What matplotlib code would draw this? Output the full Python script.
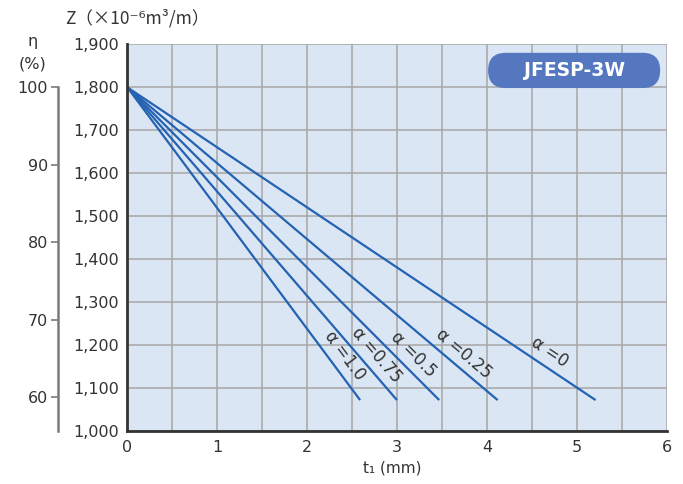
import numpy as np
import matplotlib
matplotlib.use("Agg")
import matplotlib.pyplot as plt
from matplotlib.patches import FancyBboxPatch
from matplotlib.ticker import FuncFormatter

plt.rcParams['font.family'] = ['DejaVu Sans', 'Noto Sans CJK JP']

# data
alphas = ["0", "0.25", "0.5", "0.75", "1.0"]
t_start = 0.0
z_start = 1800
t_end = [5.21, 4.12, 3.47, 3.00, 2.59]
z_end = [1073, 1073, 1073, 1073, 1073]
eta_ticks = [60, 70, 80, 90, 100]
z_per_eta = 18.0  # eta(%) = Z / 18

line_col = "#2462b2"
bg_col = "#dbe6f4"
grid_col = "#a6a6a6"
txt_col = "#333333"

fig = plt.figure(figsize=(6.83, 4.84), dpi=100)
ax = fig.add_axes([0.1864, 0.1085, 0.7896, 0.80])
ax.set_facecolor(bg_col)
ax.set_xlim(0, 6)
ax.set_ylim(1000, 1900)
ax.set_xticks(range(0, 7))
ax.set_yticks(range(1000, 2000, 100))
ax.yaxis.set_major_formatter(FuncFormatter(lambda v, p: f"{int(v):,}"))
ax.xaxis.set_minor_locator(matplotlib.ticker.MultipleLocator(0.5))
ax.grid(True, which="both", axis="x", color=grid_col, lw=1.1)
ax.grid(True, which="major", axis="y", color=grid_col, lw=1.1)
ax.set_axisbelow(True)
ax.tick_params(length=0, labelsize=11.5, colors=txt_col, pad=6)
ax.tick_params(axis="x", which="minor", length=0)
for s in ["top", "right"]:
    ax.spines[s].set_visible(False)
for s in ["left", "bottom"]:
    ax.spines[s].set_color("#333333")
    ax.spines[s].set_linewidth(2)

fig.canvas.draw()
for a, te, ze in zip(alphas, t_end, z_end):
    ax.plot([t_start, te], [z_start, ze], color=line_col, lw=1.6, solid_capstyle="butt")
    p0 = ax.transData.transform((t_start, z_start))
    p1 = ax.transData.transform((te, ze))
    d = p1 - p0
    ang = np.degrees(np.arctan2(d[1], d[0]))
    u = d / np.hypot(*d)
    nrm = np.array([-u[1], u[0]])
    if nrm[1] < 0:
        nrm = -nrm
    f = 0.885
    anchor = (t_start + f * (te - t_start), z_start + f * (ze - z_start))
    off = nrm * 14
    ax.annotate(f"α ={a}", xy=anchor, xytext=(off[0], off[1]), textcoords="offset pixels",
                rotation=ang, rotation_mode="anchor", ha="center", va="center",
                fontsize=12, color=txt_col)

# model badge
w_px = ax.bbox.width
h_px = ax.bbox.height
badge = FancyBboxPatch((0.669, 0.887), 0.319, 0.091, transform=ax.transAxes,
                       boxstyle="round,pad=0,rounding_size=0.0325",
                       mutation_aspect=w_px / h_px, fc="#5577bf", ec="none", zorder=5)
ax.add_patch(badge)
ax.text(0.8285, 0.9325, "JFESP-3W", transform=ax.transAxes, ha="center", va="center",
        color="white", fontsize=13.5, fontweight="bold", zorder=6)

# eta axis
ax_eta = fig.add_axes([57.7 / 683, 0.1085, 0.001, 0.80])
ax_eta.set_ylim(1000 / z_per_eta, 1900 / z_per_eta)
ax_eta.patch.set_visible(False)
ax_eta.set_xticks([])
ax_eta.set_yticks(eta_ticks)
for s in ["top", "right", "bottom"]:
    ax_eta.spines[s].set_visible(False)
ax_eta.spines["left"].set_bounds(1000 / z_per_eta, 100)
ax_eta.spines["left"].set_color("#7a7a7a")
ax_eta.spines["left"].set_linewidth(1.8)
ax_eta.tick_params(axis="y", length=5, width=1.2, color="#7a7a7a", labelsize=11.5,
                   labelcolor=txt_col, pad=2)

fig.text(0.048, 0.914, "η", ha="center", va="center", fontsize=11.5, color=txt_col)
fig.text(0.048, 0.868, "(%)", ha="center", va="center", fontsize=11.5, color=txt_col)
fig.text(0.095, 0.963, "Z（×10⁻⁶m³/m）", ha="left", va="center", fontsize=12.5, color=txt_col,
         family=["Noto Sans CJK JP", "DejaVu Sans"])
fig.text(0.574, 0.033, "t₁ (mm)", ha="center", va="center", fontsize=11, color=txt_col)

fig.savefig("out.png", dpi=100)
